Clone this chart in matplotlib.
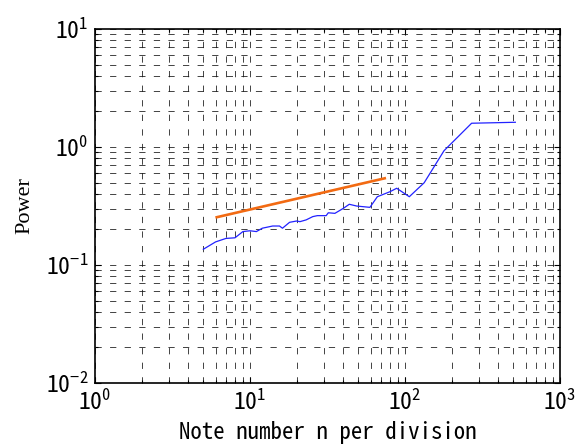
import matplotlib
matplotlib.use("Agg")
import matplotlib.pyplot as plt
from matplotlib.ticker import LogLocator, NullFormatter

# Data
blue_n = [5, 6, 7, 8, 9, 10, 11, 12, 14, 15.5, 16.2, 18, 20, 21, 23, 25.4, 27.2,
          31, 32, 35.3, 40, 43.7, 48.8, 59.4, 66.3, 80, 88.4, 106.6, 133, 178.5, 269, 515]
blue_p = [0.136, 0.157, 0.168, 0.170, 0.192, 0.195, 0.192, 0.205, 0.214, 0.214, 0.205,
          0.230, 0.236, 0.233, 0.241, 0.257, 0.262, 0.262, 0.277, 0.274, 0.302, 0.327,
          0.316, 0.308, 0.379, 0.418, 0.447, 0.379, 0.498, 0.930, 1.59, 1.62]
fit_n = [6.1, 74]
fit_p = [0.254, 0.543]

x_label = "Note number n per division"
y_label = "Power"

plt.rcParams['lines.scale_dashes'] = False
plt.rcParams['mathtext.fontset'] = 'custom'
plt.rcParams['mathtext.rm'] = 'Noto Sans Mono CJK JP'
plt.rcParams['mathtext.it'] = 'Noto Sans Mono CJK JP'
plt.rcParams['mathtext.bf'] = 'Noto Sans Mono CJK JP'
mono = ['Noto Sans Mono CJK JP', 'Noto Sans CJK JP', 'DejaVu Sans Mono']

fig = plt.figure(figsize=(5.86, 4.46), dpi=100)
ax = fig.add_axes([95 / 586, (446 - 383) / 446, 465 / 586, 354 / 446])

ax.plot(blue_n, blue_p, color='#2222ff', lw=0.9, zorder=3)
ax.plot(fit_n, fit_p, color='#f26a12', lw=1.9, zorder=3)

ax.set_xscale('log')
ax.set_yscale('log')
ax.set_xlim(1, 1000)
ax.set_ylim(0.01, 10)

ax.xaxis.set_major_locator(LogLocator(base=10, numticks=10))
ax.yaxis.set_major_locator(LogLocator(base=10, numticks=10))
ax.xaxis.set_minor_locator(LogLocator(base=10, subs=range(2, 10), numticks=20))
ax.yaxis.set_minor_locator(LogLocator(base=10, subs=range(2, 10), numticks=20))
ax.xaxis.set_minor_formatter(NullFormatter())
ax.yaxis.set_minor_formatter(NullFormatter())

ax.grid(True, which='both', color='#111111', lw=0.65, linestyle=(0, (4.5, 6)), alpha=0.85)
ax.set_axisbelow(True)

ax.tick_params(which='both', direction='in', top=True, right=True, width=0.8, color='k')
ax.tick_params(which='major', length=4, labelsize=17)
ax.tick_params(axis='x', which='major', pad=5)
ax.tick_params(axis='y', which='major', pad=5)
ax.tick_params(which='minor', length=2.5)
for lab in ax.get_xticklabels() + ax.get_yticklabels():
    lab.set_family(mono)
for s in ax.spines.values():
    s.set_linewidth(1.2)

ax.set_xlabel(x_label, fontsize=16.5, family=mono, labelpad=4)
ax.set_ylabel(y_label, fontsize=16, family=['Liberation Serif', 'DejaVu Serif'], labelpad=8)

fig.savefig('out.png', dpi=100)
